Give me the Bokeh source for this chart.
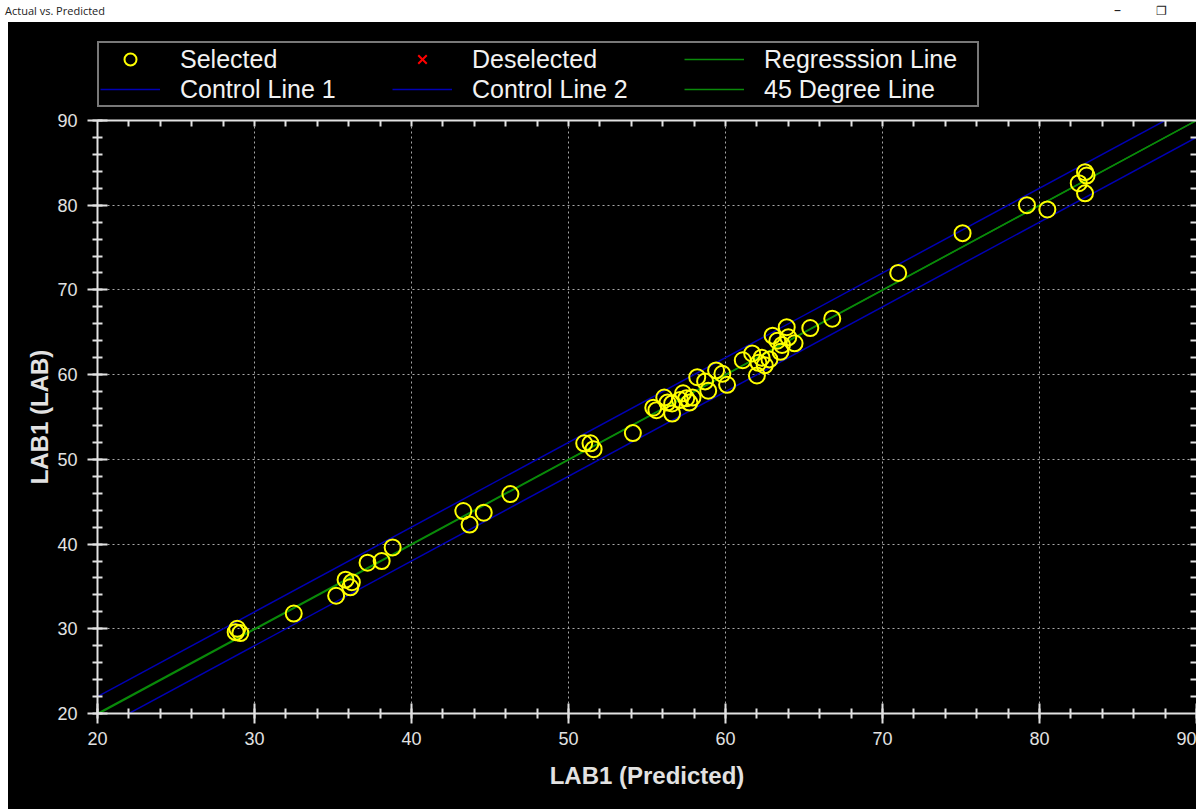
from bokeh.plotting import figure
from bokeh.models import (Range1d, LinearAxis, Legend, LegendItem, Div, Spacer,
                          SingleIntervalTicker, FixedTicker)
from bokeh.layouts import column, row
from bokeh.embed import file_html
from bokeh.resources import INLINE

# ---- data ----
predicted = [28.9, 29.1, 28.8, 32.5, 35.2, 35.8, 36.2, 36.1, 37.2, 38.1, 38.8,
             43.3, 43.7, 44.6, 46.3, 51.0, 51.4, 51.6, 54.1, 55.4, 55.6, 56.1,
             56.3, 56.6, 56.6, 57.1, 57.3, 57.5, 57.9, 57.7, 58.2, 58.7, 58.9,
             59.4, 59.8, 60.1, 61.1, 61.7, 62.1, 62.0, 62.3, 62.5, 62.8, 63.0,
             63.3, 63.6, 63.5, 63.9, 64.0, 64.4, 65.4, 66.8, 71.0, 75.1, 79.2,
             80.5, 82.5, 82.9, 83.0, 82.9]
lab = [30.0, 29.5, 29.6, 31.8, 33.9, 35.8, 35.5, 34.9, 37.8, 38.0, 39.6,
       43.9, 42.3, 43.7, 45.9, 51.9, 51.9, 51.2, 53.1, 56.1, 55.8, 57.3,
       56.7, 56.6, 55.4, 57.0, 57.8, 57.2, 57.3, 56.7, 59.7, 59.2, 58.1,
       60.5, 60.1, 58.8, 61.7, 62.5, 61.4, 59.9, 62.0, 61.1, 61.8, 64.6,
       64.0, 63.5, 62.7, 65.6, 64.4, 63.7, 65.5, 66.6, 72.0, 76.7, 80.0,
       79.5, 82.6, 83.9, 83.5, 81.4]
line_x = [20, 90]
deg45_y = [20, 90]
regression_y = [19.9, 90.0]
control1_y = [22, 92]
control2_y = [18, 88]
frame_ticks = [22, 24, 26, 28, 30, 32, 34, 36, 38, 40, 42, 44, 46, 48, 50, 52,
               54, 56, 58, 60, 62, 64, 66, 68, 70, 72, 74, 76, 78, 80, 82, 84,
               86, 88]
legend_labels = ["Selected", "Deselected", "Regresssion Line",
                 "Control Line 1", "Control Line 2", "45 Degree Line"]
# placeholder coordinates (outside the visible range) so the legend-only
# renderers have a non-empty source and their legend glyphs get drawn
hidden_x = [-5, -4]
hidden_y = [-5, -4]

FONT = "Liberation Sans"
AX = "#e2e2e2"
BLUE = "#0000b4"
GREEN = "#0a8a0a"
YELLOW = "#ffff00"
RED = "#ff0000"

# ---------------- main chart ----------------
p = figure(width=1188, height=699, output_backend="svg", toolbar_location=None,
           tools="",
           x_range=Range1d(20, 90), y_range=Range1d(20, 90),
           background_fill_color="black", border_fill_color="black",
           outline_line_color=None,
           min_border_left=89, min_border_right=0, min_border_top=10,
           min_border_bottom=96,
           x_axis_label="LAB1 (Predicted)", y_axis_label="LAB1 (LAB)")

for ax in (p.xaxis[0], p.yaxis[0]):
    ax.ticker = SingleIntervalTicker(interval=10, num_minor_ticks=5)
    ax.axis_line_color = AX
    ax.axis_line_width = 2
    ax.major_tick_line_color = AX
    ax.major_tick_line_width = 2
    ax.minor_tick_line_color = AX
    ax.minor_tick_line_width = 2
    ax.major_tick_in = 10
    ax.major_tick_out = 10
    ax.minor_tick_in = 5
    ax.minor_tick_out = 5
    ax.major_label_text_font = FONT
    ax.major_label_text_font_size = "18px"
    ax.major_label_text_color = AX
    ax.axis_label_text_font = FONT
    ax.axis_label_text_font_size = "24px"
    ax.axis_label_text_font_style = "bold"
    ax.axis_label_text_color = AX
p.yaxis[0].major_label_standoff = 10
p.yaxis[0].axis_label_standoff = 1
p.xaxis[0].major_label_standoff = 8
p.xaxis[0].axis_label_standoff = 14

for loc, show_line in (("above", True), ("right", False)):
    a = LinearAxis(ticker=FixedTicker(ticks=[], minor_ticks=frame_ticks),
                   major_label_standoff=0,
                   axis_line_color=AX if show_line else None, axis_line_width=2,
                   minor_tick_line_color=AX, minor_tick_line_width=2,
                   major_tick_out=0, minor_tick_in=6, minor_tick_out=0)
    p.add_layout(a, loc)

p.grid.ticker = SingleIntervalTicker(interval=10)
p.grid.grid_line_color = "#a8a8a8"
p.grid.grid_line_dash = "2 3"
p.grid.grid_line_width = 1

p.line(line_x, regression_y, line_color=GREEN, line_width=1.5)
p.line(line_x, control1_y, line_color=BLUE, line_width=1.5)
p.line(line_x, control2_y, line_color=BLUE, line_width=1.5)
p.line(line_x, deg45_y, line_color=GREEN, line_width=1.5)
p.scatter(predicted, lab, marker="circle", size=16, fill_color=None,
          line_color=YELLOW, line_width=2)

# ---------------- legend strip ----------------
lg = figure(width=1188, height=88, output_backend="svg", toolbar_location=None,
            tools="", x_axis_type=None, y_axis_type=None,
            x_range=Range1d(0, 1), y_range=Range1d(0, 1),
            background_fill_color="black", border_fill_color="black",
            outline_line_color=None,
            min_border_left=0, min_border_right=0, min_border_top=0,
            min_border_bottom=0)
l_sel = lg.scatter(hidden_x, hidden_y, marker="circle", size=16, fill_color=None,
                   line_color=YELLOW, line_width=2)
l_des = lg.scatter(hidden_x, hidden_y, marker="x", size=16, line_color=RED, line_width=2)
l_reg = lg.line(hidden_x, hidden_y, line_color=GREEN, line_width=1.5)
l_c1 = lg.line(hidden_x, hidden_y, line_color=BLUE, line_width=1.5)
l_c2 = lg.line(hidden_x, hidden_y, line_color=BLUE, line_width=1.5)
l_45 = lg.line(hidden_x, hidden_y, line_color=GREEN, line_width=1.5)
rends = [l_sel, l_des, l_reg, l_c1, l_c2, l_45]

legend = Legend(items=[LegendItem(label=t, renderers=[r]) for t, r in zip(legend_labels, rends)],
    location=(89, 3), orientation="horizontal", ncols=3,
    background_fill_color="black", background_fill_alpha=1,
    border_line_color="#f0f0f0", border_line_width=2,
    label_text_font=FONT, label_text_font_size="25px", label_text_color="#f2f2f2",
    glyph_width=60, glyph_height=30, label_height=30, label_width=212,
    label_standoff=20, spacing=0, padding=1, margin=0)
lg.add_layout(legend, "center")

title = Div(text=(
    '<div style="position:relative;width:1202px;height:22px;background:#fff;'
    'font-family:\'Open Sans\';font-size:11px;color:#222;">'
    '<span style="position:absolute;left:5px;top:3px;">Actual vs. Predicted</span>'
    '<span style="position:absolute;left:1114px;top:0px;font-size:14px;">&#8211;</span>'
    '<span style="position:absolute;left:1156px;top:2px;font-size:12px;">&#10064;</span>'
    '</div>'), width=1202, height=22, margin=0)

WHITE = {"background-color": "white"}
layout = column(title,
                row(Spacer(width=8, height=88, margin=0, styles=WHITE), lg,
                    Spacer(width=6, height=88, margin=0, styles=WHITE), margin=0),
                row(Spacer(width=8, height=699, margin=0, styles=WHITE), p,
                    Spacer(width=6, height=699, margin=0, styles=WHITE), margin=0),
                margin=0, styles={"background-color": "black"})

open("out.html", "w").write(file_html(layout, INLINE))
